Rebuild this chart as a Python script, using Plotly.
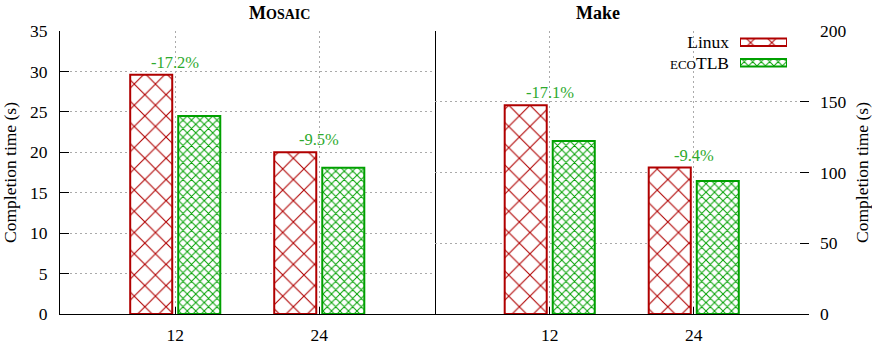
import plotly.graph_objects as go

# ---- data ----
threads = ["12", "24"]
mosaic_linux = [29.6, 20.0]
mosaic_ecotlb = [24.5, 18.1]
mosaic_pct = ["-17.2%", "-9.5%"]
make_linux = [147.5, 103.5]
make_ecotlb = [122.3, 94.0]
make_pct = ["-17.1%", "-9.4%"]
left_ticks = [0, 5, 10, 15, 20, 25, 30, 35]
right_ticks = [0, 50, 100, 150, 200]
legend_keys = ["Linux", "ecoTLB"]
legend_text = ["Linux", "<span style='font-size:13px'>ECO</span>TLB"]

FONT = "'Liberation Serif', 'DejaVu Serif', serif"
RED = "#b00000"
GREEN = "#00a000"
LBL_GREEN = "#2eaa2e"
GRID = "#aaaaaa"
DASH = "2px,3px"
FS = 17.5
TS = 17.5

W, H = 872, 345
ML, MR, MT, MB = 60, 63, 31, 31
PW = W - ML - MR
PH = H - MT - MB

fig = go.Figure()

def linux_marker():
    return dict(color="white", line=dict(color=RED, width=2),
                pattern=dict(shape="x", fgcolor=RED, bgcolor="white", size=15, solidity=0.14))

def eco_marker():
    return dict(color="white", line=dict(color=GREEN, width=2),
                pattern=dict(shape="x", fgcolor=GREEN, bgcolor="white", size=6, solidity=0.3))

for xa, ya, lin, eco in [("x", "y", mosaic_linux, mosaic_ecotlb), ("x2", "y2", make_linux, make_ecotlb)]:
    fig.add_trace(go.Bar(x=threads, y=lin, xaxis=xa, yaxis=ya, marker=linux_marker(),
                         showlegend=False, hoverinfo="skip"))
    fig.add_trace(go.Bar(x=threads, y=eco, xaxis=xa, yaxis=ya, marker=eco_marker(),
                         showlegend=False, hoverinfo="skip"))

# legend swatches (text on the left, swatch on the right)
fig.add_trace(go.Bar(x=[1], y=[legend_keys[0]], orientation="h", xaxis="x3", yaxis="y3",
                     marker=linux_marker(), width=0.36, offset=-0.18, showlegend=False, hoverinfo="skip"))
fig.add_trace(go.Bar(x=[1], y=[legend_keys[1]], orientation="h", xaxis="x3", yaxis="y3",
                     marker=eco_marker(), width=0.36, offset=-0.18, showlegend=False, hoverinfo="skip"))

annotations = []
for xr, yr, vals, labels in [("x", "y", mosaic_linux, mosaic_pct), ("x2", "y2", make_linux, make_pct)]:
    for i, (v, t) in enumerate(zip(vals, labels)):
        annotations.append(dict(x=i, y=v, xref=xr, yref=yr, text=t, showarrow=False,
                                yanchor="bottom", yshift=1,
                                font=dict(family=FONT, size=16.5, color=LBL_GREEN)))

annotations.append(dict(x=0.25, y=1, xref="paper", yref="paper", yanchor="bottom", yshift=6,
                        text="<b>M<span style='font-size:14px'>OSAIC</span></b>", showarrow=False,
                        font=dict(family=FONT, size=18, color="black")))
annotations.append(dict(x=0.75, y=1, xref="paper", yref="paper", yanchor="bottom", yshift=6,
                        text="<b>Make</b>", showarrow=False,
                        font=dict(family=FONT, size=18, color="black")))

xcommon = dict(type="category", range=[-0.8, 1.8], showline=True, linecolor="black", linewidth=1,
               ticks="inside", ticklen=7, tickcolor="black", showgrid=True, gridcolor=GRID,
               griddash=DASH, gridwidth=1, zeroline=False, ticklabelstandoff=5, automargin=False,
               tickfont=dict(family=FONT, size=FS, color="black"))

sw_x0 = (740 - ML) / PW
sw_x1 = (787 - ML) / PW
sw_ytop = (H - MB - 32) / PH
sw_ybot = (H - MB - 73) / PH

fig.update_layout(
    template="none",
    width=W, height=H,
    margin=dict(l=ML, r=MR, t=MT, b=MB, pad=0),
    paper_bgcolor="white", plot_bgcolor="white",
    barmode="group", bargap=0.333, bargroupgap=0.125,
    font=dict(family=FONT, size=FS, color="black"),
    showlegend=False,
    xaxis=dict(domain=[0, 0.5], anchor="y", **xcommon),
    xaxis2=dict(domain=[0.5, 1], anchor="y2", **xcommon),
    yaxis=dict(domain=[0, 1], anchor="x", range=[0, 35], tickvals=left_ticks,
               showline=True, mirror=True, linecolor="black", linewidth=1,
               ticks="inside", ticklen=9, tickcolor="black", automargin=False,
               showgrid=True, gridcolor=GRID, griddash=DASH, gridwidth=1, zeroline=False,
               ticklabelstandoff=8, tickfont=dict(family=FONT, size=FS, color="black"),
               title=dict(text="Completion time (s)", font=dict(family=FONT, size=TS, color="black"),
                          standoff=8)),
    yaxis2=dict(domain=[0, 1], anchor="x2", side="right", range=[0, 200], tickvals=right_ticks,
                showline=False, ticks="inside", ticklen=9, tickcolor="black", automargin=False,
                showgrid=True, gridcolor=GRID, griddash=DASH, gridwidth=1, zeroline=False,
                ticklabelstandoff=10, tickfont=dict(family=FONT, size=FS, color="black"),
                title=dict(text="Completion time (s)", font=dict(family=FONT, size=TS, color="black"),
                           standoff=10)),
    xaxis3=dict(domain=[sw_x0, sw_x1], anchor="y3", range=[0, 1], visible=False,
                fixedrange=True, automargin=False),
    yaxis3=dict(domain=[sw_ybot, sw_ytop], anchor="x3", type="category",
                categoryorder="array", categoryarray=legend_keys, autorange="reversed",
                tickvals=legend_keys, ticktext=legend_text, showline=False, showgrid=False,
                zeroline=False, ticks="", ticklabelstandoff=10, automargin=False,
                tickfont=dict(family=FONT, size=FS, color="black")),
    annotations=annotations,
)

fig.write_html("out.html")
